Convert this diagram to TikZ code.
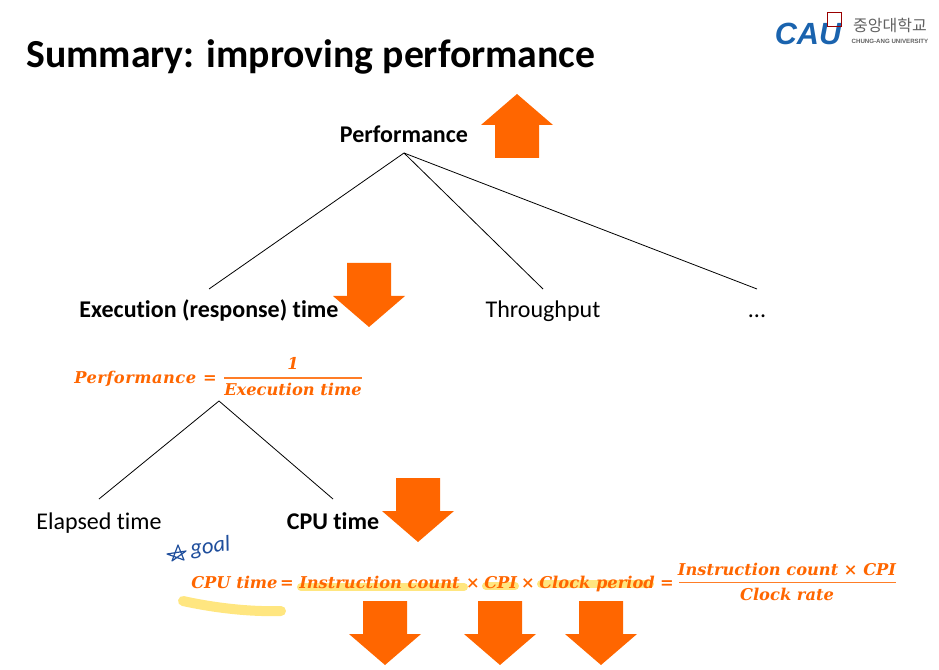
\documentclass[tikz,border=0pt]{standalone}
\usepackage{fontspec}
\setmainfont[Ligatures=NoCommon]{Carlito}
\newfontfamily\mathf{DejaVu Serif}
\newfontfamily\mathw[LetterSpace=3]{DejaVu Serif}
\newfontfamily\krf{Noto Sans CJK KR}
\newfontfamily\hero{Liberation Sans}
\definecolor{org}{HTML}{FF6600}
\definecolor{hl}{HTML}{FFE680}
\definecolor{pen}{HTML}{1F4E9C}
\definecolor{caub}{HTML}{1A63AE}
\newcommand\dnarrow[3]{\fill[bigarrow] (#1-22,#2) -- (#1+22,#2) -- (#1+22,#2+33) -- (#1+36,#2+33) -- (#1,#3) -- (#1-36,#2+33) -- (#1-22,#2+33) -- cycle;}
\tikzset{
 x=0.75pt,y=-0.75pt,
 bigarrow/.style={fill=org},
 label/.style={inner sep=0pt,anchor=base,font=\fontsize{18}{20}\selectfont},
 boldlabel/.style={label,font=\fontsize{18}{20}\selectfont\bfseries},
 eq/.style={inner sep=0pt,anchor=base,text=org,font=\fontsize{12.2}{14}\selectfont\mathf\bfseries\itshape},
 tree/.style={draw=black,line width=0.6pt},
 mark line/.style={draw=hl,line cap=round,line width=6pt},
 frac line/.style={draw=org!85,line width=0.9pt}
}
\begin{document}
\begin{tikzpicture}
\useasboundingbox (0,0) rectangle (939,670);
% title
\node[inner sep=0pt,anchor=base west,font=\fontsize{29.8}{32}\selectfont\bfseries] (title) at (26,68) {Summary: improving performance};
% logo
\node[inner sep=0pt,anchor=base,text=caub,font=\fontsize{23}{26}\selectfont\hero\bfseries\itshape] (cau) at (808,45) {CAU};
\node[draw=red!60!black,line width=0.6pt,minimum size=10.5pt,inner sep=0pt] (logosq) at (834,19) {};
\node[inner sep=0pt,anchor=base,text=black!62,font=\fontsize{12}{14}\selectfont\krf] (krname) at (890,32) {중앙대학교};
\node[inner sep=0pt,anchor=base,text=black!62,font=\fontsize{4.6}{5}\selectfont\hero\bfseries] (enname) at (890,44) {CHUNG-ANG UNIVERSITY};
% tree nodes
\node[boldlabel] (perf) at (404,143) {Performance};
\node[boldlabel] (exec) at (209,318) {Execution (response) time};
\node[label] (thr) at (543,318) {Throughput};
\node[label] (dots) at (757,318) {...};
\node[label] (elapsed) at (99,529) {Elapsed time};
\node[boldlabel] (cpu) at (333,529) {CPU time};
\coordinate (perfB) at (404,153);
\coordinate (execT) at (209,289);
\coordinate (thrT) at (543,289);
\coordinate (dotsT) at (757,289);
\coordinate (eqB) at (219,401);
\coordinate (elT) at (99,499);
\coordinate (cpuT) at (333,499);
\draw[tree] (perfB) -- (execT);
\draw[tree] (perfB) -- (thrT);
\draw[tree] (perfB) -- (dotsT);
\draw[tree] (eqB) -- (elT);
\draw[tree] (eqB) -- (cpuT);
% big arrows
\fill[bigarrow] (495,158) -- (539,158) -- (539,125) -- (553,125) -- (517,94) -- (481,125) -- (495,125) -- cycle;
\dnarrow{369}{263}{327}
\dnarrow{418}{478}{542}
\dnarrow{385}{601}{665}
\dnarrow{500}{601}{665}
\dnarrow{601}{601}{665}
% highlighter
\draw[mark line] (301,587) -- (464,587);
\draw[mark line] (486,586) -- (515,586);
\draw[mark line] (541,584) -- (650,584);
\draw[mark line,line width=7.5pt] (183,601) .. controls (215,608) and (250,612) .. (281,611);
% equations
\node[eq,anchor=base west,font=\fontsize{12.2}{14}\selectfont\mathw\bfseries\itshape] (e1) at (74,383) {Performance};
\node[eq,anchor=base] (e1q) at (210,383) {=};
\node[eq] (e1n) at (293,369) {1};
\node[eq] (e1d) at (293,395) {Execution time};
\draw[frac line] (224,378) -- (362,378);
\node[eq,anchor=base west] (e2) at (191,588) {CPU time};
\node[eq,anchor=base] (e2q) at (287,588) {=};
\node[eq,anchor=base west] (e3) at (299,588) {Instruction count};
\node[eq,anchor=base] (x1) at (473,588) {\bfseries\upshape ×};
\node[eq,anchor=base west] (e4) at (484,588) {CPI};
\node[eq,anchor=base] (x2) at (528,588) {\bfseries\upshape ×};
\node[eq,anchor=base west] (e5) at (539,588) {Clock period};
\node[eq,anchor=base] (eqs) at (667,588) {=};
\node[eq] (e6) at (787,575) {Instruction count × CPI};
\node[eq] (e7) at (787,600) {Clock rate};
\draw[frac line] (679,582.5) -- (896,582.5);
% handwriting
\draw[pen,line width=0.9pt,line join=round,line cap=round] (167,554) -- (186,551) -- (172,561) -- (178,545) -- (184,560) -- cycle;
\node[inner sep=0pt,anchor=base west,text=pen,rotate=8,font=\fontsize{17}{18}\selectfont\itshape] (goal) at (191,556) {goal};
\end{tikzpicture}
\end{document}
